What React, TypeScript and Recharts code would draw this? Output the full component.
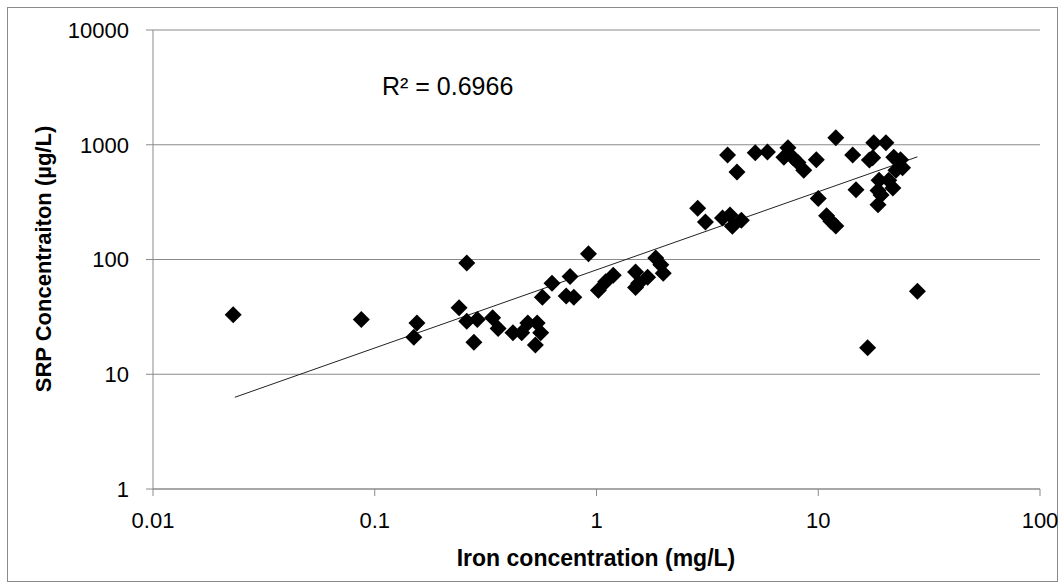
import {
  ScatterChart,
  Scatter,
  XAxis,
  YAxis,
  CartesianGrid,
  ReferenceLine,
  Customized,
} from "recharts";

// iron (mg/L) and SRP (µg/L), paired by index
const ironMgL = [
  0.023, 0.087, 0.15, 0.155, 0.24, 0.26, 0.26, 0.29, 0.28, 0.34, 0.36, 0.42,
  0.46, 0.49, 0.54, 0.56, 0.53, 0.57, 0.63, 0.76, 0.73, 0.79, 0.92, 1.02, 1.1,
  1.19, 1.5, 1.55, 1.5, 1.7, 1.85, 1.95, 2.0, 2.86, 3.1, 3.7, 4.0, 4.1, 4.5,
  3.9, 4.3, 5.2, 5.9, 7.3, 7.7, 8.1, 7.0, 8.6, 9.8, 12.0, 14.3, 14.8, 10.0,
  10.9, 11.4, 12.0, 17.8, 20.2, 17.6, 21.9, 24, 22.4, 18.8, 20.8, 18.6, 21.7,
  18.6, 17.0, 23.5, 19.2, 28, 16.7,
];
const srpUgL = [
  33, 30, 21, 28, 38, 93, 29, 30, 19, 31, 25, 23, 23, 28, 28, 23, 18, 47, 62,
  71, 48, 47, 112, 54, 64, 73, 78, 62, 57, 70, 103, 90, 76, 280, 212, 230, 244,
  195, 220, 815, 580, 850, 865, 940, 770, 700, 780, 600, 740, 1150, 815, 405,
  340, 240, 215, 196, 1040, 1040, 770, 780, 630, 600, 490, 490, 400, 420, 300,
  735, 740, 365, 53, 17,
];

// power trend line end points (as drawn by the spreadsheet)
const trendStart = { x: 0.0234, y: 6.3 };
const trendEnd = { x: 28, y: 785 };
const rSquaredText = "R² = 0.6966";

const xTicks = [0.01, 0.1, 1, 10, 100];
const yTicks = [1, 10, 100, 1000, 10000];

const xTitle = "Iron concentration (mg/L)";
const yTitle = "SRP Concentraiton (µg/L)";

const points = ironMgL.map((x, i) => ({ x, y: srpUgL[i] }));

const FONT = "'Liberation Sans', Arial, sans-serif";
const GREY = "#8a8a8a";

function Diamond(props: any) {
  const { cx, cy } = props;
  const r = 8.5;
  return (
    <polygon
      points={`${cx},${cy - r} ${cx + r},${cy} ${cx},${cy + r} ${cx - r},${cy}`}
      fill="#000"
    />
  );
}

function Titles() {
  return (
    <g fontFamily={FONT} fill="#000">
      <text x={382} y={95} fontSize={25}>
        {rSquaredText}
      </text>
      <text
        x={596}
        y={558}
        fontSize={23}
        fontWeight="bold"
        textAnchor="middle"
        dominantBaseline="central"
      >
        {xTitle}
      </text>
      <text
        x={43}
        y={259}
        fontSize={22}
        fontWeight="bold"
        textAnchor="middle"
        dominantBaseline="central"
        transform="rotate(-90 43 259)"
      >
        {yTitle}
      </text>
    </g>
  );
}

export default function App() {
  return (
    <div
      style={{
        position: "absolute",
        left: 0,
        top: 0,
        width: 1063,
        height: 588,
        background: "#fff",
      }}
    >
      <div
        style={{
          position: "absolute",
          left: 7,
          top: 7,
          width: 1051,
          height: 575,
          border: `1px solid ${GREY}`,
          boxSizing: "border-box",
        }}
      />
      <div style={{ position: "absolute", left: 0, top: 0 }}>
        <ScatterChart
          width={1063}
          height={588}
          margin={{ top: 30, right: 23, bottom: 39, left: 53 }}
        >
          <CartesianGrid vertical={false} stroke={GREY} />
          <XAxis
            type="number"
            dataKey="x"
            scale="log"
            domain={[0.01, 100]}
            ticks={xTicks}
            interval={0}
            allowDataOverflow
            height={60}
            tickSize={7}
            tickMargin={16}
            stroke={GREY}
            tick={{ fill: "#000", fontSize: 22, fontFamily: FONT }}
          />
          <YAxis
            type="number"
            dataKey="y"
            scale="log"
            domain={[1, 10000]}
            ticks={yTicks}
            interval={0}
            allowDataOverflow
            width={100}
            tickSize={7}
            tickMargin={17}
            stroke={GREY}
            tick={{ fill: "#000", fontSize: 22, fontFamily: FONT }}
          />
          <ReferenceLine
            segment={[trendStart, trendEnd]}
            stroke="#222"
            strokeWidth={1}
            ifOverflow="visible"
          />
          <Scatter
            data={points}
            fill="#000"
            shape={Diamond}
            isAnimationActive={false}
          />
          <Customized component={Titles} />
        </ScatterChart>
      </div>
    </div>
  );
}
